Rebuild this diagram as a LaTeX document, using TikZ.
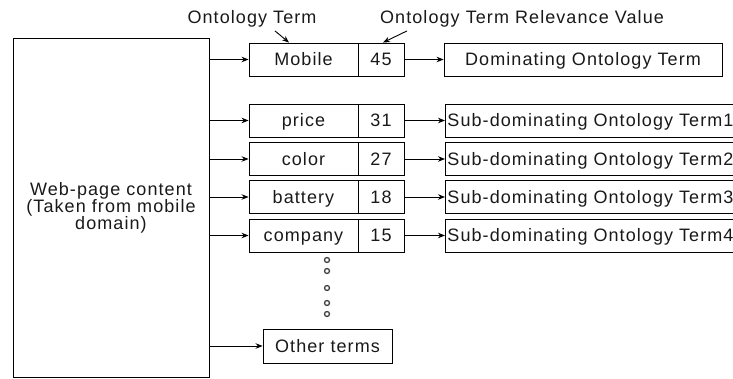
\documentclass[tikz,border=0pt]{standalone}
\usepackage{fontspec}
\setmainfont{Liberation Sans}[LetterSpace=6]
\usetikzlibrary{arrows.meta}
\begin{document}
\begin{tikzpicture}[x=1pt,y=-1pt,
  every node/.style={font=\fontsize{18}{17}\selectfont, text=black!90},
  box/.style={draw, line width=0.9pt, inner sep=0pt, minimum height=33pt, text height=13pt, text depth=0pt},
  term/.style={box, minimum width=109pt},
  val/.style={box, minimum width=46pt},
  sub/.style={box, text width=330pt, inner xsep=2pt, align=left, anchor=west},
  arr/.style={-{Stealth[length=7pt,width=5.5pt]}, line width=0.9pt},
  dotc/.style={circle, draw=black!75, line width=1.3pt, inner sep=0pt, minimum size=5pt}]
\useasboundingbox (0,0) rectangle (733,379);
\clip (0,0) rectangle (733,379);
% main box
\node[draw, line width=0.9pt, minimum width=196pt, minimum height=339pt, inner sep=0pt, align=center] (web) at (111,207.5)
  {Web-page content\\(Taken from mobile\\domain)};
% header labels
\node (lt) at (252,19) {Ontology Term};
\node (lv) at (522,19) {Ontology Term Relevance Value};
% dominating row
\node[term] (t0) at (303.5,59.5) {Mobile};
\node[val] (v0) at (381,59.5) {45};
\node[box, minimum width=278pt] (s0) at (583,59.5) {Dominating Ontology Term};
% sub rows
\node[term] (t1) at (303.5,120.5) {price};
\node[val] (v1) at (381,120.5) {31};
\node[sub] (s1) at (445,120.5) {Sub-dominating Ontology Term1};
\node[term] (t2) at (303.5,159) {color};
\node[val] (v2) at (381,159) {27};
\node[sub] (s2) at (445,159) {Sub-dominating Ontology Term2};
\node[term] (t3) at (303.5,197) {battery};
\node[val] (v3) at (381,197) {18};
\node[sub] (s3) at (445,197) {Sub-dominating Ontology Term3};
\node[term] (t4) at (303.5,235.5) {company};
\node[val] (v4) at (381,235.5) {15};
\node[sub] (s4) at (445,235.5) {Sub-dominating Ontology Term4};
% dots
\node[dotc] (d1) at (327,260) {};
\node[dotc] (d2) at (327,271) {};
\node[dotc] (d3) at (327,288) {};
\node[dotc] (d4) at (327,303) {};
\node[dotc] (d5) at (327,314) {};
% other terms
\node[box, minimum width=129pt, minimum height=34pt] (ot) at (327.5,346) {Other terms};
% connectors
\foreach \i in {0,...,4} {
  \draw[arr] (t\i.west -| web.east) -- (t\i.west);
  \draw[arr] (v\i.east) -- (s\i.west);
}
\draw[arr] (ot.west -| web.east) -- (ot.west);
\draw[arr] ([xshift=23pt]lt.south) -- ([xshift=-14.5pt]t0.north);
\draw[arr] ([xshift=-115pt]lv.south) -- ([xshift=2pt]v0.north);
\end{tikzpicture}
\end{document}
